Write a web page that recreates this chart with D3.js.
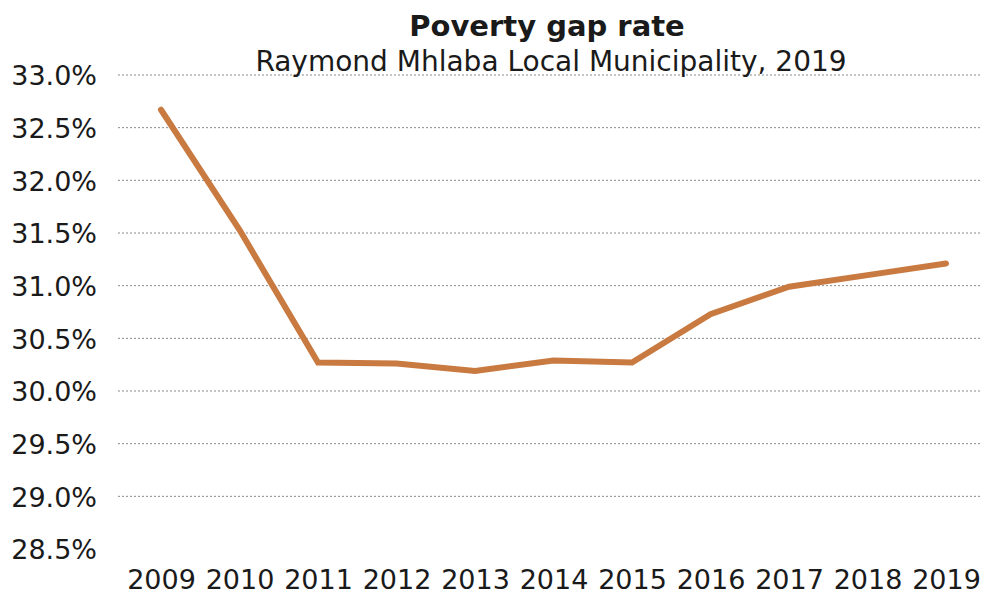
<!DOCTYPE html>
<html>
<head>
<meta charset="utf-8">
<script src="https://cdn.jsdelivr.net/npm/d3@7"></script>
<style>
  html, body { margin: 0; padding: 0; background: #fff; }
  svg { display: block; }
  text { font-family: "DejaVu Sans", Verdana, sans-serif; fill: #1a1a1a; }
</style>
</head>
<body>
<svg id="chart" width="981" height="597"></svg>
<script>
// Poverty gap rate by year
const years = ["2009", "2010", "2011", "2012", "2013", "2014", "2015", "2016", "2017", "2018", "2019"];
const gapRate = [32.67, 31.53, 30.27, 30.26, 30.19, 30.29, 30.27, 30.73, 30.99, 31.10, 31.21];
const yTicks = [28.5, 29.0, 29.5, 30.0, 30.5, 31.0, 31.5, 32.0, 32.5, 33.0];

const titleText = "Poverty gap rate";
const subtitleText = "Raymond Mhlaba Local Municipality, 2019";

const svg = d3.select("#chart");
const W = 981, H = 597;

const x = d3.scalePoint().domain(years).range([161, 946]);
const y = d3.scaleLinear().domain([28.5, 33.0]).range([549, 75]);

// Dotted gridlines (none drawn at the axis minimum)
svg.append("g")
  .selectAll("line")
  .data(yTicks.filter(t => t > 28.5))
  .join("line")
  .attr("x1", 118).attr("x2", W)
  .attr("y1", d => y(d)).attr("y2", d => y(d))
  .attr("stroke", "#8a8a8a")
  .attr("stroke-width", 1)
  .attr("stroke-dasharray", "2,2");

// Y axis labels
const yAxis = d3.axisLeft(y).tickValues(yTicks).tickFormat(d => d3.format(".1f")(d) + "%").tickSize(0).tickPadding(0);
const gy = svg.append("g").attr("transform", "translate(97,0)").call(yAxis);
gy.select(".domain").remove();
gy.selectAll("text")
  .attr("font-family", "DejaVu Sans, Verdana, sans-serif")
  .attr("font-size", 27)
  .attr("fill", "#1a1a1a")
  .attr("dy", "0.36em");

// X axis labels
const xAxis = d3.axisBottom(x).tickSize(0).tickPadding(0);
const gx = svg.append("g").attr("transform", "translate(0,570)").call(xAxis);
gx.select(".domain").remove();
gx.selectAll("text")
  .attr("font-family", "DejaVu Sans, Verdana, sans-serif")
  .attr("font-size", 27)
  .attr("fill", "#1a1a1a")
  .attr("dy", "0.71em");

// Series line
const line = d3.line()
  .x((d, i) => x(years[i]))
  .y(d => y(d));

svg.append("path")
  .datum(gapRate)
  .attr("d", line)
  .attr("fill", "none")
  .attr("stroke", "#c97a40")
  .attr("stroke-width", 6)
  .attr("stroke-linejoin", "miter")
  .attr("stroke-linecap", "round");

// Titles
svg.append("text")
  .attr("x", 547).attr("y", 36)
  .attr("text-anchor", "middle")
  .attr("font-size", 29)
  .attr("font-weight", "bold")
  .text(titleText);

svg.append("text")
  .attr("x", 551).attr("y", 71)
  .attr("text-anchor", "middle")
  .attr("font-size", 28)
  .text(subtitleText);
</script>
</body>
</html>
